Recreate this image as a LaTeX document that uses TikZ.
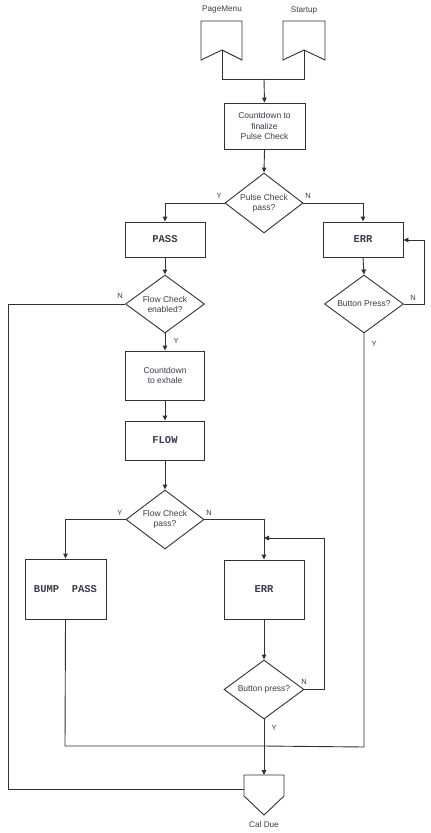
\documentclass[tikz,border=0pt]{standalone}
\usepackage{fontspec}
\setmainfont{Liberation Sans}
\setmonofont{Liberation Mono}
\usetikzlibrary{arrows.meta,shapes.geometric}
\definecolor{linec}{RGB}{50,50,50}
\definecolor{txt}{RGB}{60,60,75}
\tikzset{
  ln/.style={draw=linec, line width=0.9pt},
  arr/.style={ln, -{Triangle[length=5pt,width=4.5pt]}},
  box/.style={draw=linec, line width=0.9pt, rectangle, inner sep=0pt, align=center,
    font=\fontsize{8.5}{10.5}\selectfont, text=txt},
  mbox/.style={box, font=\ttfamily\bfseries\fontsize{10.5}{12}\selectfont},
  dec/.style={draw=linec, line width=0.9pt, diamond, aspect=1.35, inner sep=0pt, align=center,
    font=\fontsize{8.5}{10}\selectfont, text=txt},
  yn/.style={font=\fontsize{7.5}{9}\selectfont, text=txt, inner sep=0pt},
  lbl/.style={font=\fontsize{8.2}{10}\selectfont, text=txt, inner sep=0pt}
}
\begin{document}
\begin{tikzpicture}[x=1pt,y=-1pt]
\useasboundingbox[fill=white] (0,0) rectangle (431,833);

% off-page connectors at the top
\draw[ln] (201,21) -- (242,21) -- (242,60) -- (222,50) -- (201,60) -- cycle;
\draw[ln] (283,21) -- (325,21) -- (325,60) -- (304,50) -- (283,60) -- cycle;
\coordinate (pm) at (222,50);
\coordinate (su) at (304,50);
\node[lbl] (pmlab) at (222,10) {PageMenu};
\node[lbl] (sulab) at (304,10) {Startup};
\coordinate (mrg) at (264,79);

% nodes
\node[box, minimum width=81pt, minimum height=46pt] (cd1) at (264.5,126) {Countdown to\\finalize\\Pulse Check};
\node[dec, minimum width=78pt, minimum height=60pt] (pc) at (264,203) {Pulse Check\\pass?};
\node[mbox, minimum width=80pt, minimum height=35pt] (pass) at (165,239.5) {PASS};
\node[mbox, minimum width=80pt, minimum height=35pt] (err1) at (363,239.5) {ERR};
\node[dec, minimum width=79pt, minimum height=58pt] (fce) at (165,304) {Flow Check\\enabled?};
\node[dec, minimum width=79pt, minimum height=58pt] (bp1) at (364,304) {Button Press?};
\node[box, minimum width=79pt, minimum height=49pt] (cd2) at (165,375.5) {Countdown\\to exhale};
\node[mbox, minimum width=79pt, minimum height=39pt] (flow) at (165,440.5) {FLOW};
\node[dec, minimum width=78pt, minimum height=59pt] (fcp) at (165,519.5) {Flow Check\\pass?};
\node[mbox, minimum width=81pt, minimum height=60pt] (bump) at (65.5,589) {BUMP\ \ PASS};
\node[mbox, minimum width=80pt, minimum height=59pt] (err2) at (264,589.5) {ERR};
\node[dec, minimum width=80pt, minimum height=59pt] (bp2) at (264,689.5) {Button press?};

% Cal Due connector
\draw[ln] (244,775) -- (284,775) -- (284,796) -- (264,815) -- (244,796) -- cycle;
\coordinate (caltop) at (264,775);
\coordinate (calleft) at (244,789);
\node[lbl] (callab) at (264,825) {Cal Due};

% connectors
\draw[ln] (pm) -- (222,79) -- (304,79) -- (su);
\draw[arr] (mrg) -- (cd1.north);
\draw[arr] (cd1.south) -- (pc.north);
\draw[arr] (pc.west) -| (pass.north);
\draw[arr] (pc.east) -| (err1.north);
\draw[arr] (pass.south) -- (fce.north);
\draw[arr] (err1.south) -- (bp1.north);
\draw[arr] (bp1.east) -- (424,304) -- (424,240) -- (err1.east |- 0,240);
\draw[ln] (fce.west) -- (8,304) -- (8,789) -- (calleft);
\draw[arr] (fce.south) -- (cd2.north);
\draw[arr] (cd2.south) -- (flow.north);
\draw[arr] (flow.south) -- (fcp.north);
\draw[arr] (fcp.west) -| (bump.north);
\draw[arr] (fcp.east) -| (err2.north);
\coordinate (loopin) at (264,538);
\draw[arr] (bp2.east) -- (324,689.5) -- (324,538) -- (loopin);
\draw[arr] (err2.south) -- (bp2.north);
\draw[arr] (bp2.south) -- (caltop);
\draw[ln] (bump.south) -- (65,746) -- (264,746);
\draw[ln] (bp1.south) -- (364,747) -- (264,746);

% Y/N labels
\node[yn] (y1) at (219,196) {Y};
\node[yn] (n1) at (308,196) {N};
\node[yn] (n2) at (120,296) {N};
\node[yn] (y2) at (176,341) {Y};
\node[yn] (n3) at (413,298) {N};
\node[yn] (y3) at (374,344) {Y};
\node[yn] (y4) at (120,513) {Y};
\node[yn] (n4) at (209,513) {N};
\node[yn] (n5) at (304,682) {N};
\node[yn] (y5) at (274,728) {Y};
\end{tikzpicture}
\end{document}
